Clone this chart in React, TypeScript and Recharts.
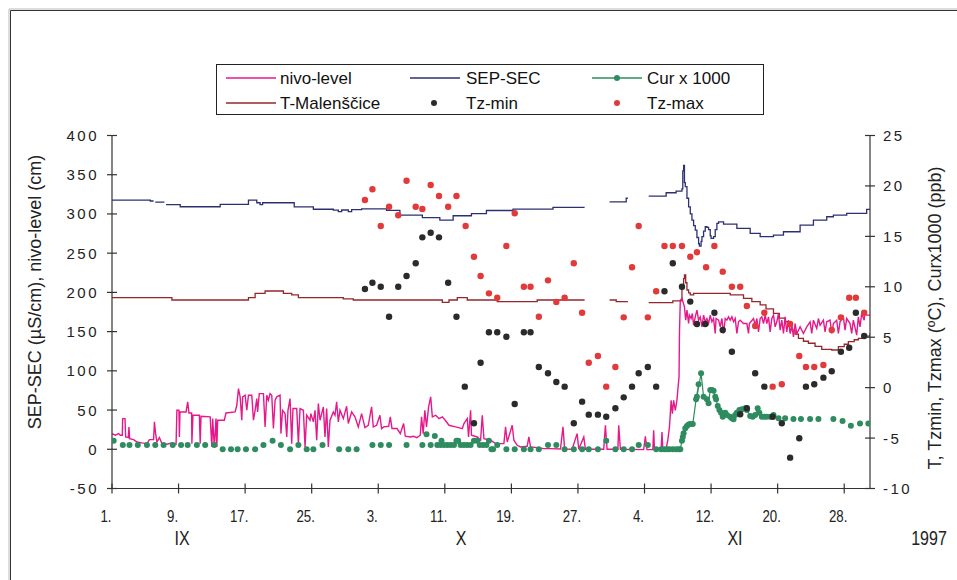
import React from 'react';
import { ComposedChart, Line, Scatter, XAxis, YAxis } from 'recharts';

// x = day since 1 Sep 1997 (0 = 1.IX, 30 = 1.X, 61 = 1.XI, 91 = 1.XII)
const xTicks = [0, 8, 16, 24, 32, 40, 48, 56, 64, 72, 80, 88];
const xTickLabels = ['1.', '9.', '17.', '25.', '3.', '11.', '19.', '27.', '4.', '12.', '20.', '28.'];
const leftTicks = [-50, 0, 50, 100, 150, 200, 250, 300, 350, 400];
const rightTicks = [-10, -5, 0, 5, 10, 15, 20, 25];
const monthLabels = ['IX', 'X', 'XI'];
const yearLabel = '1997';

// nivo-level (cm), left axis
const nivo: [number, number][] = [
  [0, 20], [0.4, 17.9], [0.8, 20], [1.0, 17.9], [1.24, 17.9], [1.28, 39.1], [1.56, 39.1], [1.64, 15.7], [1.96, 14.9], [2.04, 28.5], [2.12, 13.6], [2.6, 12.3], [3.0, 9.3], [3.6, 8.1], [4.2, 7.2], [4.5, 12.3], [5.0, 12.3], [5.1, 34.9], [5.24, 20], [5.4, 9.3], [5.7, 14.9], [6.0, 7.2], [6.6, 6.4], [7.2, 8.1], [7.7, 6.4],
  [7.8, 49.7], [8.05, 49.7], [8.1, 15.7], [8.17, 47.6], [8.9, 47.6], [9.1, 60.4], [9.25, 46.3], [9.57, 46.3], [9.6, 7.2], [9.73, 43.4], [10.5, 43.4], [10.6, 7.2], [10.7, 42.1], [11.8, 41.3], [12.0, 3.0], [12.1, 39.1], [12.3, 3.0], [12.5, 39.1], [12.6, 3.0], [12.7, 37.0], [13.5, 37.0], [13.7, 46.3], [14.8, 47.6],
  [15.0, 56.1], [15.2, 77.4], [15.4, 66.8], [15.6, 37], [15.7, 66.8], [16.0, 68.9], [16.2, 49.7], [16.4, 68.9], [16.8, 68.9], [17.0, 37], [17.2, 49.7], [17.4, 64.6], [17.5, 47.6], [17.7, 71.0], [18.2, 71.0], [18.4, 28.5], [18.6, 68.9], [18.8, 62.5], [19.0, 71.0], [19.2, 68.9], [19.4, 26.4], [19.6, 62.5], [19.8, 66.8], [20.2, 68.9],
  [20.3, 20], [20.5, 49.7], [20.8, 45.5], [21.0, 15.7], [21.15, 49.7], [21.4, 64.6], [21.6, 7.2], [21.75, 51.9], [22.2, 51.9], [22.4, 7.2], [22.6, 51.9], [23.0, 49.7], [23.2, 3.0], [23.4, 43.4], [23.8, 37], [23.9, 45.5], [24.2, 34.9], [24.4, 49.7], [24.6, 11.5], [24.8, 58.3], [25.0, 37], [25.4, 54], [25.6, 15.7], [25.8, 51.9], [26.0, 3.0], [26.2, 37],
  [26.6, 47.6], [26.8, 43.4], [27.0, 60.4], [27.2, 34.9], [27.4, 49.7], [27.8, 39.1], [28.2, 54.9], [28.4, 32.8], [28.8, 47.6], [29.2, 41.3], [29.6, 28.5], [30.0, 45.5], [30.4, 27.6], [30.8, 30.6], [31.2, 54], [31.4, 28.5], [31.8, 30.6], [32.2, 43.4], [32.4, 26.4], [32.65, 28.5], [33.25, 29.3], [33.45, 41.3], [33.65, 26.4], [34.25, 26.4], [34.65, 20],
  [35.05, 32.8], [35.25, 16.6], [35.85, 15.7], [36.25, 16.6], [36.65, 14.9], [37.05, 17.9], [37.2, 41.3], [37.4, 20], [37.6, 49.7], [37.8, 28.5], [38.05, 54], [38.3, 66.8], [38.5, 41.3], [38.9, 43.4], [39.3, 39.1], [39.7, 41.3], [40.05, 37], [40.5, 30.6], [41.3, 28.5], [42.1, 26.4], [42.3, 32.8], [42.7, 39.1], [42.85, 15.7], [43.1, 49.7], [43.2, 17.9], [43.9, 15.7], [44.3, 11.5], [44.5, 43.4], [44.7, 13.6], [45.5, 11.5],
  [46.1, 7.2], [47.1, 7.2], [47.3, 28.5], [47.5, 9.3], [48.1, 30.6], [48.3, 11.5], [48.7, 5.1], [49.1, 3.0], [49.9, 3.8], [50.1, 15.7], [50.3, 3.0], [51.1, 2.1], [51.9, 0.8], [52.7, 0.8], [53.9, 0.4], [54.2, 28.5], [54.4, 0.4], [55.3, 0], [55.9, 20], [56.1, 0], [56.7, 15.7], [56.9, 0], [59.1, 0], [59.3, 30.6], [59.5, 0], [60.8, 0], [60.9, 30.6], [61.1, 0],
  [63.9, -0.4], [64.1, 16.6], [64.3, -0.4], [65.0, -0.4], [65.1, 24.2], [65.2, -0.4], [66.0, -0.4], [66.1, 22.1], [66.2, -0.4], [66.6, 0.8], [66.8, 11.5], [67.0, 28.5], [67.2, 62.5], [67.35, 45.5], [67.5, 62.5], [67.7, 49.7], [67.9, 62.5], [68.0, 75.3], [68.15, 92.3], [68.2, 147.6], [68.3, 190],
  [68.5, 192.2], [68.8, 181.6], [68.95, 164.6], [69.1, 177.3], [69.3, 160.3], [69.4, 171], [69.6, 166.7], [69.75, 173.1], [69.9, 158.2], [70.1, 168.8], [70.3, 177.3], [70.5, 164.6], [70.7, 168.8], [70.9, 156.1], [71.1, 171], [71.3, 162.5], [71.5, 166.7], [71.7, 160.3], [71.9, 171], [72.1, 162.5], [72.3, 166.7], [72.5, 147.6], [72.6, 166.7], [72.9, 164.6],
  [73.1, 156.1], [73.3, 166.7], [73.5, 147.6], [73.7, 166.7], [73.9, 164.6], [74.1, 168.8], [74.3, 164.6], [74.5, 168.8], [74.7, 162.5], [74.9, 166.7], [75.1, 147.6], [75.3, 162.5], [75.5, 164.6], [75.9, 160.3], [76.3, 160.3], [76.5, 147.6], [76.6, 160.3], [77.1, 166.7], [77.3, 158.2], [77.5, 166.7], [77.7, 149.7], [77.9, 166.7],
  [78.1, 168.8], [78.3, 160.3], [78.5, 171], [78.7, 160.3], [78.9, 168.8], [79.1, 149.7], [79.3, 166.7], [79.5, 171], [79.7, 156.1], [79.9, 162.5], [80.1, 173.1], [80.3, 151.8], [80.5, 164.6], [80.7, 147.6], [80.9, 168.8], [81.1, 149.7], [81.3, 164.6], [81.5, 147.6], [81.7, 158.2], [81.9, 143.3], [82.1, 160.3], [82.3, 147.6], [82.7, 156.1],
  [83.1, 147.6], [83.5, 156.1], [83.9, 162.5], [84.1, 147.6], [84.3, 164.6], [84.7, 154], [84.9, 166.7], [85.1, 158.2], [85.5, 164.6], [85.7, 149.7], [85.9, 162.5], [86.3, 164.6], [86.5, 147.6], [86.7, 160.3], [87.1, 164.6], [87.3, 147.6], [87.5, 162.5], [87.9, 168.8], [88.1, 151.8], [88.3, 166.7], [88.7, 160.3], [88.9, 147.6],
  [89.1, 164.6], [89.5, 145.4], [89.7, 168.8], [89.9, 156.1], [90.1, 173.1], [90.4, 164.6], [90.5, 177.3], [90.7, 171], [91.1, 171],
];

// SEP-SEC (µS/cm), left axis
const sepSec: [number, number | null][] = [
  [0, 317.7], [4.6, 316.5], [5.0, 316.5], [5.05, null], [5.2, 315], [6.3, 315], [6.35, null], [6.5, 312], [8.2, 309.2], [13.0, 312.2], [16.4, 317.5], [17.4, 314.3], [17.8, 312], [18.1, 314.3], [21.9, 309], [24.2, 306], [26.6, 304.8], [27.2, 303], [27.6, 305], [28.4, 303], [28.8, 305.5], [30.0, 306.5],
  [33.0, 304.5], [34.6, 298.6], [37.3, 295.2], [39.4, 292.2], [41.0, 297.7], [43.2, 300.5], [45.0, 304.4], [48.2, 306.2], [53.0, 308.4], [56.8, 308.4], [56.85, null], [59.8, 315.5], [61.8, 320], [62.0, 320], [62.05, null], [64.5, 322.8], [66.6, 327], [67.8, 329],
  [68.5, 332], [68.6, 355], [68.7, 362], [68.8, 340], [68.9, 334.7], [69.1, 320], [69.3, 309], [69.5, 300], [69.7, 292], [69.9, 285], [70.1, 279.4], [70.3, 270], [70.5, 262], [70.6, 259], [70.8, 265], [70.9, 271], [71.1, 278], [71.3, 283.7], [71.5, 283], [71.7, 280], [71.9, 272], [72.0, 268.8], [72.3, 271], [72.5, 280], [72.7, 288], [72.9, 290],
  [73.5, 287.1], [75.1, 281.6], [76.7, 275.2], [77.9, 271], [79.5, 273], [80.7, 277.3], [82.7, 285.8], [84.3, 292.2], [85.9, 296.4], [86.7, 298.6], [88.3, 300.7], [90.7, 305.8], [91.1, 306],
];

// T-Malenščice (°C), right axis
const tMal: [number, number | null][] = [
  [0, 8.92], [7.2, 8.69], [16.4, 8.92], [17.2, 9.35], [18.4, 9.58], [20.6, 9.35], [21.6, 9.2], [22.4, 8.92], [27.8, 8.8], [29.0, 8.69], [39.7, 8.46], [40.5, 8.69], [41.5, 8.92], [42.7, 8.69], [46.3, 8.53], [51.1, 8.69], [56.8, 8.69], [56.85, null], [59.8, 8.69], [60.6, 8.53], [62.0, 8.53], [62.05, null], [64.5, 8.42], [67.4, 8.6], [68.3, 8.6],
  [68.5, 9.8], [68.7, 10.8], [68.8, 11.17], [68.95, 10.4], [69.1, 9.68], [69.3, 9.4], [69.5, 9.19], [69.9, 9.35], [74.3, 9.2], [75.9, 8.86], [76.9, 8.53], [77.9, 8.2], [78.6, 7.8], [79.5, 7.37], [80.2, 6.9], [80.9, 6.54], [81.3, 6.1], [81.7, 5.7], [82.1, 5.3], [82.5, 4.89], [83.1, 4.6], [83.7, 4.4], [84.5, 4.1], [85.3, 3.8], [86.5, 3.73],
  [87.3, 4.06], [88.0, 4.3], [88.5, 4.56], [89.2, 4.75], [89.7, 4.89], [90.4, 5.1], [91.1, 5.39],
];

// Cur x 1000 (ppb), right axis: separate samples
const curDots: [number, number][] = [
  [0.2, -5.26], [1.3, -5.69], [2.1, -5.69], [3.1, -5.69], [4.2, -5.69], [5.2, -5.69], [6.2, -5.69], [7.3, -5.69], [8.3, -5.69], [9.1, -5.69], [10.2, -5.69], [11.2, -5.69], [12.3, -5.69], [13.3, -6.11], [14.3, -6.11], [15.1, -6.11], [16.1, -6.11], [17.2, -6.11], [18.2, -5.69], [19.3, -5.26], [20.3, -5.69], [21.4, -6.11], [22.4, -5.69], [23.4, -6.11], [24.2, -6.11], [25.3, -5.69], [27.3, -6.11], [28.4, -6.11], [29.4, -6.11],
  [31.3, -5.69], [32.3, -5.69], [33.3, -5.69], [35.4, -5.69], [37.3, -5.69], [37.8, -4.63], [38.3, -5.69], [38.8, -4.79], [39.1, -5.69], [39.5, -5.69], [39.6, -5.26], [39.9, -5.69], [40.3, -5.69], [40.7, -5.69], [41.1, -5.69], [41.4, -5.26], [41.6, -5.26], [41.9, -5.69], [42.3, -5.69], [42.7, -5.69], [43.1, -5.69], [43.5, -5.26], [43.9, -5.26], [44.2, -5.69], [44.6, -5.69], [45.0, -5.69], [45.3, -5.26], [45.6, -6.11], [45.8, -6.11], [46.3, -5.69],
  [47.4, -6.11], [48.4, -6.11], [49.5, -6.11], [50.3, -6.11], [51.3, -6.11], [52.4, -5.69], [53.4, -5.69], [54.4, -6.11], [55.5, -6.11], [56.5, -6.11], [57.3, -6.11], [58.4, -6.11], [59.4, -5.26], [60.5, -6.11], [61.5, -6.11], [62.5, -6.11], [63.3, -5.69], [64.4, -5.69], [65.4, -6.11], [66.0, -6.11], [66.4, -6.11], [66.7, -6.11], [67.0, -6.11], [67.4, -6.11], [67.8, -6.11], [68.1, -6.11],
  [80.1, -3.04], [80.9, -3.04], [81.9, -3.11], [82.8, -3.11], [83.9, -3.11], [84.9, -3.11], [86.7, -3.11], [87.8, -3.31], [88.8, -3.77], [89.9, -3.56], [90.9, -3.56],
];

// Cur x 1000 (ppb), right axis: dense connected part
const curLine: [number, number][] = [
  [68.3, -6.11], [68.5, -5.26], [68.6, -4.9], [68.7, -4.53], [68.9, -4.03], [69.1, -3.8], [69.3, -3.65], [69.5, -3.6], [69.8, -3.6], [70.2, -1.16], [70.5, 0.33], [70.3, -0.9], [70.8, 1.42], [71.1, -0.9], [71.5, -1.16], [71.7, -1.55], [71.9, -0.23], [72.1, -0.23], [72.3, -0.3], [72.5, -0.9], [72.6, -1.16], [72.8, -1.82], [73.0, -2.22], [73.2, -2.48], [73.4, -2.88],
  [73.7, -2.48], [73.9, -2.71], [74.3, -2.88], [74.5, -3.04], [74.7, -3.14], [74.9, -2.71], [75.1, -2.48], [75.4, -2.22], [75.7, -2.15], [76.1, -2.05], [76.3, -2.22], [76.7, -2.8], [77.0, -2.88], [77.3, -2.71], [77.6, -2.05], [77.8, -2.48], [78.1, -2.88], [78.4, -2.88], [78.7, -2.88], [79.1, -2.88], [79.5, -2.71],
];

// Tz-min (°C), right axis
const tzMin: [number, number][] = [
  [30.4, 9.78], [31.3, 10.4], [32.3, 10.0], [33.3, 7.03], [34.4, 10.0], [35.4, 11.07], [36.5, 12.33], [37.3, 14.9], [38.3, 15.36], [39.3, 14.9], [40.4, 10.4], [41.4, 7.03], [42.4, 0.1], [43.5, -3.53], [44.3, 2.47], [45.3, 5.49], [46.3, 5.49], [47.4, 5.05], [48.4, -1.62], [49.5, 5.49], [50.3, 5.49], [51.3, 2.05], [52.4, 1.42], [53.4, 0.56], [54.4, 0.1], [55.5, -3.53],
  [56.5, -1.39], [57.3, -2.68], [58.4, -2.68], [59.4, -2.88], [60.5, -2.05], [61.5, -0.96], [62.5, 0.1], [63.3, 1.42], [64.4, 2.05], [65.4, 0.1], [66.4, 9.55], [67.4, 12.33], [68.5, 10.0], [69.5, 8.53], [70.3, 6.31], [71.3, 6.31], [72.4, 7.43], [73.4, 5.72], [74.5, 3.56], [75.5, -2.64], [76.3, -2.05], [77.3, 1.42], [78.4, 0.1],
  [79.4, -2.88], [80.5, -3.53], [81.5, -6.94], [82.6, -5.02], [83.4, 0.1], [84.4, 0.33], [85.5, 0.99], [86.5, 1.62], [87.6, 3.56], [88.6, 3.96], [89.4, 7.43], [90.4, 5.12],
];

// Tz-max (°C), right axis
const tzMax: [number, number][] = [
  [30.4, 18.6], [31.3, 19.67], [32.3, 16.03], [33.3, 17.94], [34.4, 17.09], [35.4, 20.52], [36.5, 17.94], [37.3, 17.71], [38.3, 20.09], [39.3, 19.0], [40.4, 17.94], [41.4, 19.0], [42.5, 16.03], [43.5, 12.98], [44.3, 11.07], [45.3, 9.35], [46.3, 8.92], [47.4, 14.04], [48.4, 17.29], [49.5, 10.0], [50.3, 10.0], [51.3, 7.03], [52.4, 10.64], [53.4, 8.49], [54.4, 8.92], [55.5, 12.33],
  [56.5, 7.43], [57.3, 2.47], [58.4, 3.14], [59.4, 0.1], [60.5, 2.05], [61.5, 6.97], [62.5, 11.93], [63.3, 16.03], [64.4, 6.97], [65.4, 9.55], [66.4, 14.04], [67.4, 14.04], [68.5, 14.04], [69.5, 12.98], [70.3, 13.42], [71.4, 11.93], [72.4, 14.04], [73.4, 11.5], [74.5, 10.0], [75.5, 10.0], [76.3, 8.09], [77.3, 6.11],
  [78.4, 7.43], [79.4, 0.1], [80.5, 0.33], [81.5, 6.31], [82.6, 3.14], [83.4, 2.05], [84.4, 2.05], [85.5, 2.25], [86.5, 5.72], [87.6, 6.97], [88.6, 8.92], [89.4, 8.92], [90.4, 7.43],
];

const toRows = (arr: [number, number | null][]) => arr.map(([x, v]) => ({ x, v }));

const AXIS = '#333333';
const MAGENTA = '#e6198b';
const NAVY = '#2d3070';
const BROWN = '#93272b';
const GREEN = '#2e8c60';
const BLACK = '#2b2b2b';
const RED = '#e23a3a';
const FONT = "'Liberation Sans', Arial, Helvetica, sans-serif";

const LeftTick = (props: any) => {
  const { x, y, payload } = props;
  return (
    <g>
      <line x1={x - 5} x2={x + 5} y1={y} y2={y} stroke={AXIS} strokeWidth={1.2} />
      <text x={x - 13} y={y} dy={5.5} textAnchor="end" fontSize={15} letterSpacing={2.5} fill="#222" fontFamily={FONT}>
        {payload.value}
      </text>
    </g>
  );
};

const RightTick = (props: any) => {
  const { x, y, payload } = props;
  return (
    <g>
      <line x1={x - 5} x2={x + 5} y1={y} y2={y} stroke={AXIS} strokeWidth={1.2} />
      <text x={x + 13} y={y} dy={5.5} textAnchor="start" fontSize={15} letterSpacing={2.5} fill="#222" fontFamily={FONT}>
        {payload.value}
      </text>
    </g>
  );
};

const BottomTick = (props: any) => {
  const { x, y, payload, index } = props;
  const label = xTickLabels[xTicks.indexOf(payload.value)] ?? xTickLabels[index];
  return (
    <g>
      <line x1={x} x2={x} y1={y - 5} y2={y + 5} stroke={AXIS} strokeWidth={1.2} />
      <text transform={`translate(${x - 6},${y + 33}) scale(0.78,1)`} textAnchor="middle" fontSize={17} fill="#222" fontFamily={FONT}>
        {label}
      </text>
    </g>
  );
};

const dotShape = (color: string, r: number) => (p: any) =>
  p.cx == null || p.cy == null ? <g /> : <circle cx={p.cx} cy={p.cy} r={r} fill={color} />;

export default function App() {
  return (
    <div style={{ position: 'absolute', left: 0, top: 0, width: 957, height: 580, background: '#fff', overflow: 'hidden' }}>
      <ComposedChart width={957} height={580} margin={{ top: 135.5, right: 0, bottom: 0, left: 0 }}>
        <XAxis
          type="number"
          dataKey="x"
          domain={[0, 91.1]}
          ticks={xTicks}
          interval={0}
          allowDataOverflow
          height={91.5}
          axisLine={{ stroke: AXIS, strokeWidth: 1.2 }}
          tickLine={false}
          tickSize={0}
          tickMargin={0}
          tick={<BottomTick />}
        />
        <YAxis
          yAxisId="L"
          type="number"
          domain={[-50, 400]}
          ticks={leftTicks}
          interval={0}
          allowDataOverflow
          width={112}
          axisLine={{ stroke: AXIS, strokeWidth: 1.2 }}
          tickLine={false}
          tickSize={0}
          tickMargin={0}
          tick={<LeftTick />}
        />
        <YAxis
          yAxisId="R"
          orientation="right"
          type="number"
          domain={[-10, 25]}
          ticks={rightTicks}
          interval={0}
          allowDataOverflow
          width={87}
          axisLine={{ stroke: AXIS, strokeWidth: 1.2 }}
          tickLine={false}
          tickSize={0}
          tickMargin={0}
          tick={<RightTick />}
        />
        <Line yAxisId="L" data={toRows(sepSec)} dataKey="v" type="stepAfter" stroke={NAVY} strokeWidth={1.3} dot={false} connectNulls={false} isAnimationActive={false} />
        <Line yAxisId="R" data={toRows(tMal)} dataKey="v" type="stepAfter" stroke={BROWN} strokeWidth={1.3} dot={false} connectNulls={false} isAnimationActive={false} />
        <Scatter yAxisId="R" data={toRows(curDots)} dataKey="v" fill={GREEN} shape={dotShape(GREEN, 3)} isAnimationActive={false} />
        <Line yAxisId="R" data={toRows(curLine)} dataKey="v" type="linear" stroke={GREEN} strokeWidth={1.2} dot={dotShape(GREEN, 3)} isAnimationActive={false} />
        <Line yAxisId="L" data={toRows(nivo)} dataKey="v" type="linear" stroke={MAGENTA} strokeWidth={1.4} dot={false} isAnimationActive={false} />
        <Scatter yAxisId="R" data={toRows(tzMin)} dataKey="v" fill={BLACK} shape={dotShape(BLACK, 3.2)} isAnimationActive={false} />
        <Scatter yAxisId="R" data={toRows(tzMax)} dataKey="v" fill={RED} shape={dotShape(RED, 3.2)} isAnimationActive={false} />
      </ComposedChart>

      <svg width={957} height={580} style={{ position: 'absolute', left: 0, top: 0, pointerEvents: 'none' }} fontFamily={FONT}>
        {/* outer frame */}
        <line x1={9} y1={9} x2={957} y2={9} stroke="#bbb" strokeWidth={1} />
        <line x1={9} y1={9} x2={9} y2={580} stroke="#bbb" strokeWidth={1} />
        <line x1={10.5} y1={10.5} x2={957} y2={10.5} stroke="#333" strokeWidth={1} />
        <line x1={10.5} y1={10.5} x2={10.5} y2={580} stroke="#333" strokeWidth={1} />

        {/* legend */}
        <rect x={216.5} y={64.5} width={547} height={50} fill="#fff" stroke="#222" strokeWidth={1} />
        <line x1={226} x2={276} y1={78} y2={78} stroke={MAGENTA} strokeWidth={1.5} />
        <text x={280} y={84} fontSize={17} fill="#111">nivo-level</text>
        <line x1={410} x2={460} y1={78} y2={78} stroke={NAVY} strokeWidth={1.5} />
        <text x={466} y={84} fontSize={17} fill="#111">SEP-SEC</text>
        <line x1={592} x2={642} y1={78} y2={78} stroke={GREEN} strokeWidth={1.5} />
        <circle cx={617} cy={78} r={3} fill={GREEN} />
        <text x={647} y={84} fontSize={17} fill="#111">Cur x 1000</text>
        <line x1={226} x2={276} y1={103} y2={103} stroke={BROWN} strokeWidth={1.5} />
        <text x={280} y={109} fontSize={17} fill="#111">T-Malenščice</text>
        <circle cx={434} cy={103} r={3} fill={BLACK} />
        <text x={466} y={109} fontSize={17} fill="#111">Tz-min</text>
        <circle cx={617} cy={103} r={3} fill={RED} />
        <text x={647} y={109} fontSize={17} fill="#111">Tz-max</text>

        {/* axis titles */}
        <text transform="translate(41,292) rotate(-90)" textAnchor="middle" fontSize={18} fill="#222">
          SEP-SEC (µS/cm), nivo-level (cm)
        </text>
        <text transform="translate(941,318) rotate(-90)" textAnchor="middle" fontSize={18} fill="#222">
          T, Tzmin, Tzmax (ºC), Curx1000 (ppb)
        </text>

        {/* month labels */}
        <text transform="translate(182,545) scale(0.8,1)" textAnchor="middle" fontSize={20} fill="#222">{monthLabels[0]}</text>
        <text transform="translate(461,545) scale(0.8,1)" textAnchor="middle" fontSize={20} fill="#222">{monthLabels[1]}</text>
        <text transform="translate(735,545) scale(0.8,1)" textAnchor="middle" fontSize={20} fill="#222">{monthLabels[2]}</text>
        <text transform="translate(929,545) scale(0.8,1)" textAnchor="middle" fontSize={20} fill="#222">{yearLabel}</text>
      </svg>
    </div>
  );
}
